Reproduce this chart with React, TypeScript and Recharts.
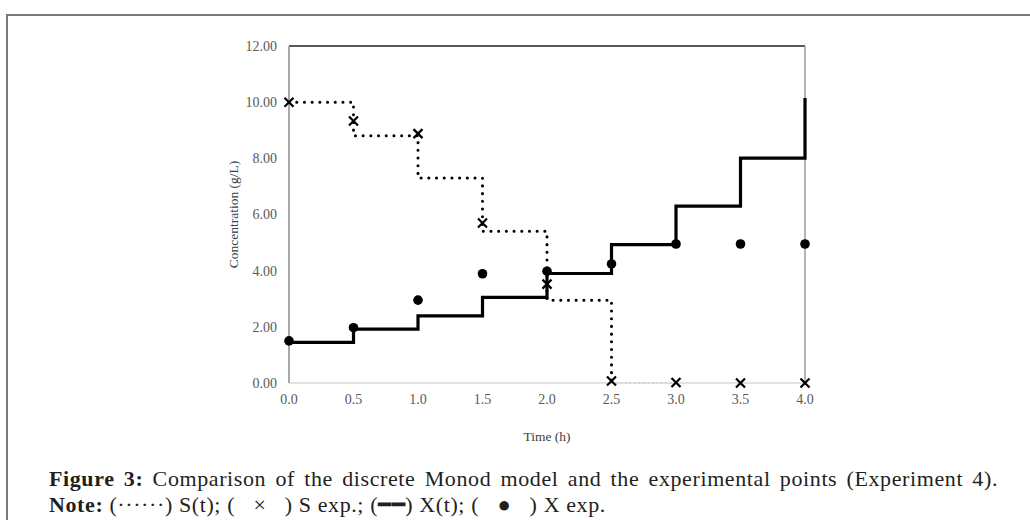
import {
    ComposedChart,
    Line,
    Scatter,
    XAxis,
    YAxis,
    ReferenceLine,
} from "recharts";

const times = [0, 0.5, 1, 1.5, 2, 2.5, 3, 3.5, 4];
// S(t) model, step curve (dotted)
const sModel = [10.0, 8.8, 7.3, 5.4, 2.95, 0.0, null, null, null];
// thin gray continuation of S(t) at zero
const sModelTail = [null, null, null, null, null, 0.0, 0.0, null, null];
const sExp = [10.0, 9.33, 8.88, 5.7, 3.52, 0.07, 0.02, 0.0, 0.0];
// X(t) model, step curve (solid)
const xModel = [1.45, 1.92, 2.39, 3.05, 3.9, 4.93, 6.3, 8.01, 10.15];
const xExp = [1.5, 1.97, 2.95, 3.89, 3.98, 4.24, 4.95, 4.95, 4.95];

const xTicks = [0, 0.5, 1, 1.5, 2, 2.5, 3, 3.5, 4];
const yTicks = [0, 2, 4, 6, 8, 10, 12];

const data = times.map((t, i) => ({
    t,
    sModel: sModel[i],
    sModelTail: sModelTail[i],
    sExp: sExp[i],
    xModel: xModel[i],
    xExp: xExp[i],
}));

const font = "'Liberation Serif', 'Times New Roman', serif";

function Cross(props: any) {
    const { cx, cy } = props;
    if (cx == null || cy == null) return null;
    const s = 4.5;
    return (
        <path
            d={`M${cx - s},${cy - s}L${cx + s},${cy + s}M${cx - s},${cy + s}L${cx + s},${cy - s}`}
            stroke="#000"
            strokeWidth={2.2}
            fill="none"
        />
    );
}

function Dot(props: any) {
    const { cx, cy } = props;
    if (cx == null || cy == null) return null;
    return <circle cx={cx} cy={cy} r={4.8} fill="#000" />;
}

const sp = "\u00a0\u00a0\u00a0";

export default function App() {
    return (
        <div
            style={{
                position: "relative",
                width: 1030,
                height: 520,
                background: "#fff",
                overflow: "hidden",
                fontFamily: font,
            }}
        >
            <style>{`body{margin:0}`}</style>

            <div
                style={{
                    position: "absolute",
                    left: 6,
                    top: 14,
                    width: 1030,
                    height: 520,
                    borderTop: "2px solid #7a7a7a",
                    borderLeft: "2px solid #7a7a7a",
                }}
            />

            <div style={{ position: "absolute", left: 0, top: 0 }}>
                <ComposedChart
                    width={1030}
                    height={470}
                    data={data}
                    margin={{ top: 46, right: 225, bottom: 57, left: 229 }}
                >
                    <XAxis
                        dataKey="t"
                        type="number"
                        domain={[0, 4]}
                        ticks={xTicks}
                        tickFormatter={(v: number) => v.toFixed(1)}
                        height={30}
                        tickLine={false}
                        tickMargin={5}
                        axisLine={{ stroke: "#d9d9d9", strokeWidth: 1.5 }}
                        tick={{ fontSize: 14, fill: "#595959", fontFamily: font }}
                        label={{
                            value: "Time (h)",
                            position: "bottom",
                            offset: 18,
                            style: { fontSize: 13.5, fill: "#404040", fontFamily: font },
                        }}
                    />
                    <YAxis
                        type="number"
                        domain={[0, 12]}
                        ticks={yTicks}
                        tickFormatter={(v: number) => v.toFixed(2)}
                        width={60}
                        tickLine={false}
                        tickMargin={6}
                        axisLine={{ stroke: "#8c8c8c", strokeWidth: 1.5 }}
                        tick={{ fontSize: 14, fill: "#595959", fontFamily: font }}
                        label={{
                            value: "Concentration (g/L)",
                            angle: -90,
                            position: "insideLeft",
                            offset: 4,
                            style: {
                                textAnchor: "middle",
                                fontSize: 13.5,
                                fill: "#404040",
                                fontFamily: font,
                            },
                        }}
                    />
                    <ReferenceLine y={12} stroke="#222" strokeWidth={1.5} />
                    <ReferenceLine x={4} stroke="#9a9a9a" strokeWidth={1.5} />

                    <Line
                        type="stepAfter"
                        dataKey="sModelTail"
                        stroke="#9a9a9a"
                        strokeWidth={1.5}
                        strokeDasharray="1.5 3"
                        dot={false}
                        activeDot={false}
                        isAnimationActive={false}
                    />
                    <Line
                        type="stepAfter"
                        dataKey="sModel"
                        stroke="#000"
                        strokeWidth={3}
                        strokeDasharray="0.1 7.6"
                        strokeLinecap="round"
                        dot={false}
                        activeDot={false}
                        isAnimationActive={false}
                    />
                    <Line
                        type="stepAfter"
                        dataKey="xModel"
                        stroke="#000"
                        strokeWidth={3.2}
                        dot={false}
                        activeDot={false}
                        isAnimationActive={false}
                    />
                    <Scatter
                        dataKey="sExp"
                        shape={Cross}
                        isAnimationActive={false}
                    />
                    <Scatter
                        dataKey="xExp"
                        shape={Dot}
                        isAnimationActive={false}
                    />
                </ComposedChart>
            </div>

            <div
                style={{
                    position: "absolute",
                    left: 49,
                    top: 466,
                    width: 949,
                    fontSize: 22,
                    letterSpacing: 0.6,
                    lineHeight: "26px",
                    color: "#231f20",
                }}
            >
                <div style={{ textAlign: "justify", textAlignLast: "justify" }}>
                    <b>Figure 3:</b> Comparison of the discrete Monod model and
                    the experimental points (Experiment 4).
                </div>
                <div>
                    <b>Note:</b> (······) S(t); ({sp}×{sp}) S exp.; (━━) X(t);
                    ({sp}●{sp}) X exp.
                </div>
            </div>
        </div>
    );
}
